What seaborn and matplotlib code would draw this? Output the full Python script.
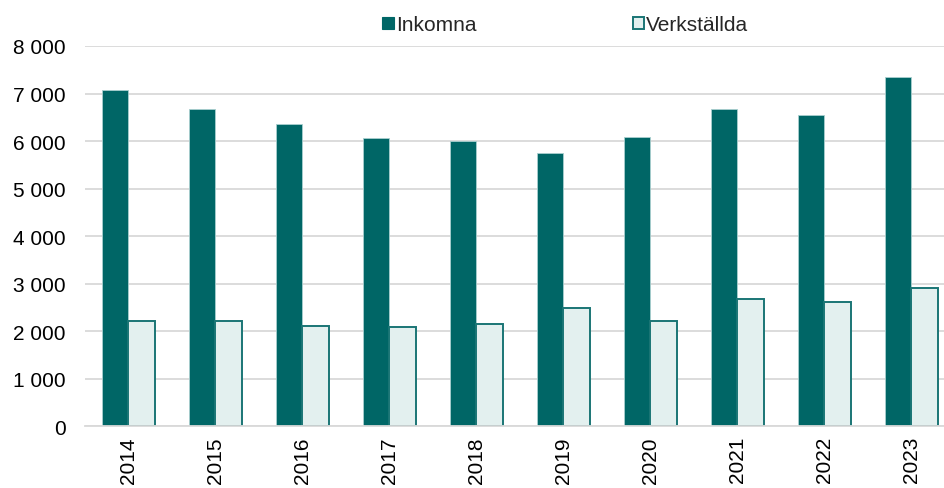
import matplotlib
matplotlib.use("Agg")
import matplotlib.pyplot as plt
import seaborn as sns
import pandas as pd
import numpy as np
from matplotlib.ticker import FuncFormatter, FixedLocator
from matplotlib.patches import Patch

years = ["2014", "2015", "2016", "2017", "2018", "2019", "2020", "2021", "2022", "2023"]
inkomna = [7065, 6670, 6365, 6060, 6010, 5740, 6090, 6670, 6555, 7355]
verkstallda = [2220, 2220, 2100, 2080, 2150, 2490, 2205, 2670, 2610, 2900]
series = ["Inkomna", "Verkställda"]

df = pd.DataFrame({
    "År": years * 2,
    "Serie": [series[0]] * len(years) + [series[1]] * len(years),
    "Antal": inkomna + verkstallda,
})

sns.set_theme(style="white")
plt.rcParams["font.family"] = ["Liberation Sans", "DejaVu Sans"]

dark = "#006666"
light = "#E3F0EF"
fs = 15
fig = plt.figure(figsize=(9.44, 4.89), dpi=100)
ax = fig.add_axes([85 / 944, (489 - 427.3) / 489, (954.7 - 85) / 944, (427.3 - 47) / 489])

sns.barplot(data=df, x="År", y="Antal", hue="Serie", palette=[dark, light],
            width=0.61, gap=0, ax=ax, legend=False, saturation=1, errorbar=None)

for bar in ax.containers[0]:
    bar.set_edgecolor("#A9CFCF")
    bar.set_linewidth(0.6)
for bar in ax.containers[1]:
    bar.set_edgecolor("#1A7575")
    bar.set_linewidth(1.4)

ax.set_ylim(0, 8000)
ax.set_xlim(-0.5, len(years) - 0.5)
ax.yaxis.set_major_locator(FixedLocator(np.arange(0, 8001, 1000)))
ax.yaxis.set_major_formatter(FuncFormatter(lambda v, p: f"{int(v):,}".replace(",", " ")))
ax.grid(axis="y", color="#D9D9D9", linewidth=1.3)
ax.set_axisbelow(True)
for s in ["top", "right", "left"]:
    ax.spines[s].set_visible(False)
ax.spines["bottom"].set_color("#D9D9D9")
ax.spines["bottom"].set_linewidth(1.3)

ax.set_xlabel("")
ax.set_ylabel("")
ax.tick_params(axis="y", length=0, pad=14, labelsize=fs, labelcolor="#000000")
ax.tick_params(axis="x", which="major", length=0, pad=7, labelsize=fs, labelrotation=90, labelcolor="#000000")
ax.set_xticks(np.arange(-0.5, len(years), 1.0), minor=True)
ax.tick_params(axis="x", which="minor", length=6, color="#D9D9D9", width=1.3)

handles = [Patch(facecolor=dark, edgecolor=dark, linewidth=0.8),
           Patch(facecolor=light, edgecolor="#1A7575", linewidth=1.4)]
fig.legend(handles, series, loc="center", bbox_to_anchor=(0.599, 0.947), ncol=2,
           frameon=False, fontsize=fs, handlelength=0.53, handleheight=0.53,
           handletextpad=0.12, columnspacing=7.5)

fig.savefig("out.png", dpi=100)
